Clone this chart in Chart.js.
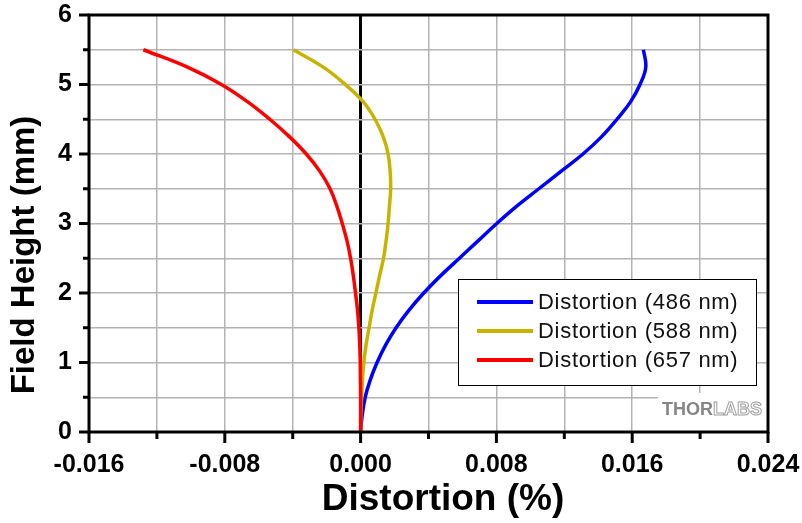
<!DOCTYPE html>
<html>
<head>
<meta charset="utf-8">
<script src="https://cdn.jsdelivr.net/npm/chart.js@4.4.1/dist/chart.umd.min.js"></script>
<style>
  html, body { margin: 0; padding: 0; background: #fff; }
  #wrap { width: 802px; height: 523px; }
</style>
</head>
<body>
<div id="wrap"><canvas id="grafico" width="802" height="523"></canvas></div>
<script>
// field height (mm), one point every 0.25 mm
const alturas = [0, 0.25, 0.5, 0.75, 1, 1.25, 1.5, 1.75, 2, 2.25, 2.5, 2.75,
  3, 3.25, 3.5, 3.75, 4, 4.25, 4.5, 4.75, 5, 5.25, 5.5];

// distortion (%)
const dist486 = [0, 0.0001, 0.00027, 0.00057, 0.00097, 0.00147, 0.00209, 0.00284,
  0.00372, 0.00472, 0.00582, 0.00692, 0.00802, 0.0092, 0.0105, 0.0118, 0.0131,
  0.0142, 0.0151, 0.0159, 0.01646, 0.0168, 0.01666];
const dist588 = [0, 0.00002, 0.00006, 0.00011, 0.00019, 0.00032, 0.0005, 0.00068,
  0.0009, 0.00112, 0.00135, 0.0015, 0.00162, 0.0017, 0.00177, 0.00174, 0.00162,
  0.00133, 0.00085, 0.00016, -0.0009, -0.0022, -0.00396];
const dist657 = [0, 0, 0, -0.00001, -0.00002, -0.00005, -0.0001, -0.00018,
  -0.0003, -0.00043, -0.00059, -0.0008, -0.00108, -0.0014, -0.0018, -0.0024,
  -0.0032, -0.0042, -0.00535, -0.00665, -0.0082, -0.0102, -0.0128];

const etiquetas = ["Distortion (486 nm)", "Distortion (588 nm)", "Distortion (657 nm)"];
const colores = ["#0000ff", "#c8b400", "#ff0000"];

const xMin = -0.016, xMax = 0.024, xPaso = 0.004, xEtiqueta = 0.008;
const yMin = 0, yMax = 6, yPaso = 0.5;

const fuente = "'Liberation Sans', Arial, sans-serif";

function puntos(serie) {
  return alturas.map(function (h, i) {
    return { x: serie[i], y: h };
  });
}

function esMultiplo(v, paso) {
  const k = v / paso;
  return Math.abs(k - Math.round(k)) < 1e-6;
}

const marco = {
  id: "marco",
  afterDatasetsDraw(chart) {
    const ctx = chart.ctx;
    const area = chart.chartArea;
    const sx = chart.scales.x;
    const sy = chart.scales.y;
    ctx.save();

    // logo
    ctx.fillStyle = "#fff";
    ctx.fillRect(658, 393, area.right - 658, area.bottom - 393);
    ctx.font = "bold 18px " + fuente;
    ctx.textBaseline = "middle";
    ctx.textAlign = "left";
    ctx.fillStyle = "#858585";
    ctx.fillText("THOR", 662, 410);
    const ancho = ctx.measureText("THOR").width;
    ctx.fillStyle = "#fff";
    ctx.strokeStyle = "#a0a0a0";
    ctx.lineWidth = 1;
    ctx.fillText("LABS", 662 + ancho, 410);
    ctx.strokeText("LABS", 662 + ancho, 410);

    // legend
    ctx.fillStyle = "#fff";
    ctx.fillRect(458, 279, 298, 106);
    ctx.strokeStyle = "#000";
    ctx.lineWidth = 1;
    ctx.strokeRect(458.5, 279.5, 298, 106);
    ctx.font = "22px " + fuente;
    ctx.letterSpacing = "0.7px";
    chart.data.datasets.forEach(function (ds, i) {
      const y = 302 + i * 29;
      ctx.strokeStyle = ds.borderColor;
      ctx.lineWidth = 4;
      ctx.beginPath();
      ctx.moveTo(477, y);
      ctx.lineTo(533, y);
      ctx.stroke();
      ctx.fillStyle = "#111";
      ctx.fillText(ds.label, 538, y + 1);
    });
    ctx.letterSpacing = "0px";

    // frame
    ctx.strokeStyle = "#000";
    ctx.lineWidth = 3;
    ctx.strokeRect(area.left, area.top, area.right - area.left, area.bottom - area.top);

    // outward ticks
    ctx.lineWidth = 3;
    for (let v = xMin; v <= xMax + 1e-9; v += xPaso) {
      const px = sx.getPixelForValue(v);
      const largo = esMultiplo(v, xEtiqueta) ? 11 : 7;
      ctx.beginPath();
      ctx.moveTo(px, area.bottom);
      ctx.lineTo(px, area.bottom + largo);
      ctx.stroke();
    }
    for (let v = yMin; v <= yMax + 1e-9; v += yPaso) {
      const py = sy.getPixelForValue(v);
      const largo = esMultiplo(v, 1) ? 10 : 6;
      ctx.beginPath();
      ctx.moveTo(area.left, py);
      ctx.lineTo(area.left - largo, py);
      ctx.stroke();
    }

    // axis titles
    ctx.fillStyle = "#000";
    ctx.textAlign = "center";
    ctx.textBaseline = "middle";
    ctx.font = "bold 37px " + fuente;
    ctx.fillText("Distortion (%)", 443, 500);
    ctx.translate(25, 255);
    ctx.rotate(-Math.PI / 2);
    ctx.font = "bold 33px " + fuente;
    ctx.fillText("Field Height (mm)", 0, 0);

    ctx.restore();
  },
};

const series = [dist486, dist588, dist657];

new Chart(document.getElementById("grafico"), {
  type: "scatter",
  data: {
    datasets: series.map(function (serie, i) {
      return {
        label: etiquetas[i],
        data: puntos(serie),
        showLine: true,
        borderColor: colores[i],
        backgroundColor: colores[i],
        borderWidth: 3.5,
        pointRadius: 0,
        tension: 0.4,
        order: 3 - i,
      };
    }),
  },
  options: {
    responsive: false,
    animation: false,
    devicePixelRatio: 1,
    layout: { padding: { top: 15, right: 34, left: 0, bottom: 0 } },
    plugins: {
      legend: { display: false },
      tooltip: { enabled: false },
    },
    scales: {
      x: {
        type: "linear",
        min: xMin,
        max: xMax,
        afterFit: function (scale) {
          scale.height = 91;
          scale.paddingLeft = 0;
          scale.paddingRight = 0;
        },
        border: { display: false },
        grid: {
          drawTicks: false,
          color: function (c) {
            return c.tick && Math.abs(c.tick.value) < 1e-9 ? "#000" : "#b4b4b4";
          },
          lineWidth: function (c) {
            return c.tick && Math.abs(c.tick.value) < 1e-9 ? 3 : 1.5;
          },
        },
        ticks: {
          stepSize: xPaso,
          autoSkip: false,
          maxRotation: 0,
          padding: 18,
          color: "#000",
          font: { family: fuente, size: 25, weight: "bold" },
          callback: function (v) {
            if (!esMultiplo(v, xEtiqueta)) return "";
            if (Math.abs(v) < 1e-9) return "0.000";
            return v.toFixed(3);
          },
        },
      },
      y: {
        type: "linear",
        min: yMin,
        max: yMax,
        afterFit: function (scale) {
          scale.width = 89;
          scale.paddingTop = 0;
          scale.paddingBottom = 0;
        },
        border: { display: false },
        grid: { drawTicks: false, color: "#b4b4b4", lineWidth: 1.5 },
        ticks: {
          stepSize: yPaso,
          autoSkip: false,
          padding: 17,
          color: "#000",
          font: { family: fuente, size: 25, weight: "bold" },
          callback: function (v) {
            return esMultiplo(v, 1) ? String(Math.round(v)) : "";
          },
        },
      },
    },
  },
  plugins: [marco],
});
</script>
</body>
</html>
